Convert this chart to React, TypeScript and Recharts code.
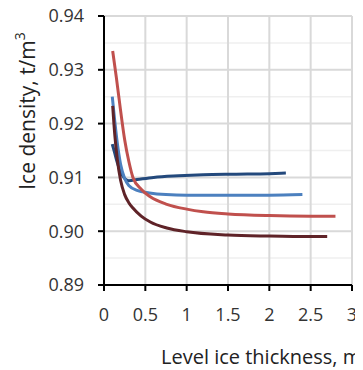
import { CartesianGrid, Line, LineChart, XAxis, YAxis, Label } from "recharts";

// thickness (m) / density (t/m3)
const navyX = [0.1, 0.13, 0.16, 0.2, 0.25, 0.3, 0.4, 0.6, 0.9, 1.2, 1.6, 2.0, 2.2];
const navyY = [0.9162, 0.9145, 0.9128, 0.911, 0.9098, 0.9094, 0.9096, 0.91, 0.9103, 0.9105, 0.9106, 0.9107, 0.9108];

const blueX = [0.1, 0.13, 0.16, 0.2, 0.25, 0.3, 0.4, 0.55, 0.75, 1.0, 1.5, 2.0, 2.4];
const blueY = [0.925, 0.9205, 0.9165, 0.9125, 0.9098, 0.9085, 0.9076, 0.9071, 0.9068, 0.9067, 0.9067, 0.9067, 0.9068];

const redX = [0.105, 0.15, 0.2, 0.25, 0.3, 0.35, 0.45, 0.56, 0.76, 1.0, 1.2, 1.5, 2.0, 2.5, 2.8];
const redY = [0.9335, 0.9285, 0.9225, 0.917, 0.913, 0.91, 0.9078, 0.9064, 0.905, 0.9041, 0.9036, 0.9032, 0.9029, 0.9028, 0.9028];

const maroonX = [0.105, 0.13, 0.16, 0.2, 0.25, 0.3, 0.35, 0.45, 0.56, 0.76, 1.0, 1.5, 2.0, 2.5, 2.7];
const maroonY = [0.9233, 0.918, 0.9135, 0.9095, 0.9068, 0.9053, 0.9043, 0.9028, 0.9017, 0.9006, 0.8999, 0.8993, 0.8991, 0.899, 0.899];

const xTicks = [0, 0.5, 1, 1.5, 2, 2.5, 3];
const yTicks = [0.89, 0.9, 0.91, 0.92, 0.93, 0.94];
const yMinor = [0.895, 0.905, 0.915, 0.925, 0.935];

const zip = (xs: number[], ys: number[]) => xs.map((x, i) => ({ x, y: ys[i] }));

const series = [
  { name: "navy", data: zip(navyX, navyY), color: "#23497c" },
  { name: "blue", data: zip(blueX, blueY), color: "#4c80bf" },
  { name: "red", data: zip(redX, redY), color: "#c0504d" },
  { name: "maroon", data: zip(maroonX, maroonY), color: "#5f2328" },
];

const font = "'Open Sans', sans-serif";
const tick = { fill: "#333", fontSize: 18, fontFamily: font };

export default function App() {
  // shift onto the page corner so the chart uses the whole window
  return (
    <div style={{ position: "relative", top: -8, left: -8, width: 363, height: 370 }}>
      <LineChart width={363} height={370} margin={{ top: 16, right: 11, left: 0, bottom: 0 }}>
        <CartesianGrid horizontalValues={yMinor} vertical={false} stroke="#efefef" strokeWidth={1.5} />
        <CartesianGrid verticalValues={xTicks} horizontalValues={yTicks} stroke="#d9d9d9" strokeWidth={2} />
        <XAxis
          type="number"
          dataKey="x"
          domain={[0, 3]}
          ticks={xTicks}
          height={85}
          tick={tick}
          tickSize={6}
          tickMargin={17}
          axisLine={{ stroke: "#000", strokeWidth: 2 }}
          tickLine={{ stroke: "#000", strokeWidth: 2 }}
        >
          <Label
            content={() => (
              <text x={161} y={364} fontSize={20} fontFamily={font} fill="#222">
                Level ice thickness, m
              </text>
            )}
          />
        </XAxis>
        <YAxis
          type="number"
          domain={[0.89, 0.94]}
          ticks={yTicks}
          width={104}
          tick={tick}
          tickSize={6}
          tickMargin={14}
          tickFormatter={(v: number) => v.toFixed(2)}
          axisLine={{ stroke: "#000", strokeWidth: 2 }}
          tickLine={{ stroke: "#000", strokeWidth: 2 }}
        >
          <Label
            content={() => (
              <text
                x={27}
                y={111}
                transform="rotate(-90 27 111)"
                textAnchor="middle"
                dominantBaseline="central"
                fontSize={21}
                fontFamily={font}
                fill="#222"
              >
                Ice density, t/m<tspan fontSize={14} dy={-8}>3</tspan>
              </text>
            )}
          />
        </YAxis>
        {series.map((s) => (
          <Line
            key={s.name}
            data={s.data}
            dataKey="y"
            type="monotone"
            stroke={s.color}
            strokeWidth={3}
            dot={false}
            activeDot={false}
            isAnimationActive={false}
          />
        ))}
      </LineChart>
    </div>
  );
}
